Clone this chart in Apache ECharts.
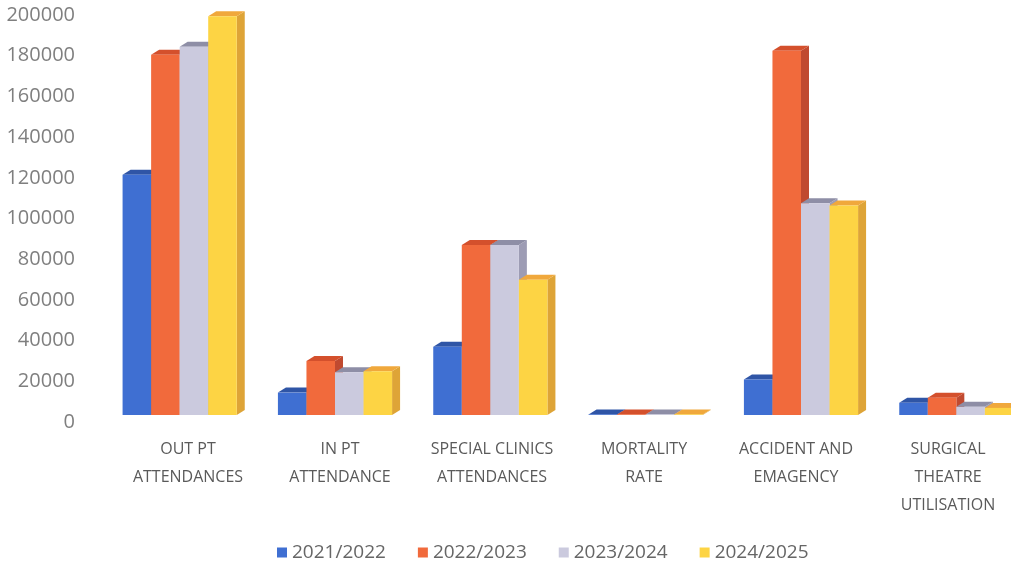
<!DOCTYPE html>
<html>
<head>
<meta charset="utf-8">
<script src="https://cdn.jsdelivr.net/npm/echarts@6/dist/echarts.min.js"></script>
<style>
  html, body { margin: 0; padding: 0; background: #fff; }
  #chart { width: 1011px; height: 571px; }
</style>
</head>
<body>
<div id="chart"></div>
<script>
const categories = [
  'OUT PT\nATTENDANCES',
  'IN PT\nATTENDANCE',
  'SPECIAL CLINICS\nATTENDANCES',
  'MORTALITY\nRATE',
  'ACCIDENT AND\nEMAGENCY',
  'SURGICAL\nTHEATRE\nUTILISATION'
]
const years = ['2021/2022', '2022/2023', '2023/2024', '2024/2025']
const v2021 = [118000, 11000, 33500, 300, 17500, 6000]
const v2022 = [177000, 26500, 83500, 300, 179000, 8500]
const v2023 = [181000, 21000, 83500, 300, 104000, 4000]
const v2024 = [196000, 21500, 66500, 300, 103000, 3500]
const yearValues = [v2021, v2022, v2023, v2024]

// front / top / side shades per year
const faceColors = [
  { front: '#3f6fd2', top: '#2f55a6', side: '#2a4c96' },
  { front: '#f16a3c', top: '#d4502c', side: '#c04a30' },
  { front: '#cbcade', top: '#8e8ea6', side: '#9d9cb4' },
  { front: '#fdd444', top: '#f0a83c', side: '#dea437' }
]

const DX = 8
const DY = 5

function makeRender(idx) {
  return function (params, api) {
    const cat = api.value(0)
    const val = api.value(1)
    const base = api.coord([cat, 0])
    const top = api.coord([cat, val])
    const bandW = api.size([1, 0])[0]
    const groupW = bandW * 0.735
    const barW = groupW / 4
    const x0 = base[0] - groupW / 2 + idx * barW - 8
    const x1 = x0 + barW
    const yt = top[1]
    const yb = base[1]
    const c = faceColors[idx]
    return {
      type: 'group',
      children: [
        {
          type: 'polygon',
          shape: { points: [[x1, yt], [x1 + DX, yt - DY], [x1 + DX, yb - DY], [x1, yb]] },
          style: { fill: c.side }
        },
        {
          type: 'polygon',
          shape: { points: [[x0, yt], [x0 + DX, yt - DY], [x1 + DX, yt - DY], [x1, yt]] },
          style: { fill: c.top }
        },
        {
          type: 'rect',
          shape: { x: x0, y: yt, width: barW, height: yb - yt },
          style: { fill: c.front }
        }
      ]
    }
  }
}

const chart = echarts.init(document.getElementById('chart'))

const option = {
  backgroundColor: '#ffffff',
  textStyle: { fontFamily: 'Open Sans' },
  legend: {
    bottom: 4,
    left: 272,
    icon: 'rect',
    itemWidth: 10,
    itemHeight: 10,
    itemGap: 32,
    textStyle: { color: '#666666', fontSize: 19, fontFamily: 'Open Sans' },
    data: years
  },
  grid: [
    {
      left: 110,
      top: 8,
      width: 932,
      bottom: 156,
      containLabel: false,
      outerBoundsMode: 'none'
    },
    // labels sit on a slightly tighter spacing than the bars (3D perspective)
    {
      left: 112,
      top: 8,
      width: 912,
      bottom: 156,
      containLabel: false,
      outerBoundsMode: 'none'
    }
  ],
  xAxis: [
    {
      type: 'category',
      gridIndex: 0,
      data: categories,
      axisLine: { show: false },
      axisTick: { show: false },
      axisLabel: { show: false }
    },
    {
      type: 'category',
      gridIndex: 1,
      data: categories,
      axisLine: { show: false },
      axisTick: { show: false },
      axisLabel: {
        color: '#5a5a5a',
        fontSize: 16,
        lineHeight: 28,
        margin: 20,
        interval: 0
      }
    }
  ],
  yAxis: [
    {
      type: 'value',
      gridIndex: 0,
      min: 0,
      max: 200000,
      interval: 20000,
      splitLine: { show: false },
      axisLine: { show: false },
      axisTick: { show: false },
      axisLabel: {
        color: '#7f7f7f',
        fontSize: 20,
        margin: 35,
        verticalAlign: 'top',
        lineHeight: 14,
        formatter: v => String(v)
      }
    },
    {
      type: 'value',
      gridIndex: 1,
      show: false,
      min: 0,
      max: 200000
    }
  ],
  series: years.map((name, i) => ({
    name: name,
    type: 'custom',
    xAxisIndex: 0,
    yAxisIndex: 0,
    renderItem: makeRender(i),
    itemStyle: { color: faceColors[i].front },
    encode: { x: 0, y: 1 },
    data: yearValues[i].map((v, j) => [j, v])
  }))
}

chart.setOption(option)
</script>
</body>
</html>
